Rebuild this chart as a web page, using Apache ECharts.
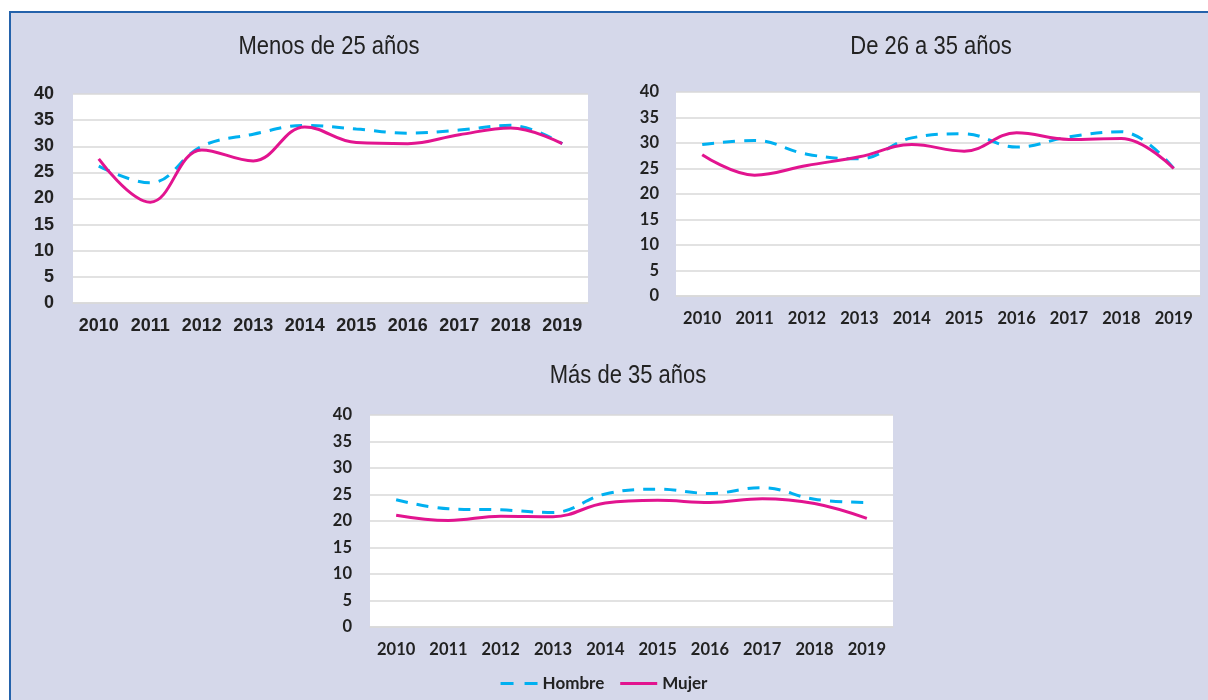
<!DOCTYPE html>
<html>
<head>
<meta charset="utf-8">
<script src="https://cdn.jsdelivr.net/npm/echarts@6/dist/echarts.min.js"></script>
<style>
  html, body { margin: 0; padding: 0; background: #fff; }
  #main { width: 1208px; height: 700px; }
</style>
</head>
<body>
<div id="main"></div>
<script>
var years = ['2010', '2011', '2012', '2013', '2014', '2015', '2016', '2017', '2018', '2019'];
var yTicks = [0, 5, 10, 15, 20, 25, 30, 35, 40];
var titles = ['Menos de 25 años', 'De 26 a 35 años', 'Más de 35 años'];
var seriesNames = ['Hombre', 'Mujer'];

// Menos de 25 años
var hombre25 = [26.2, 23.0, 30.0, 32.3, 34.0, 33.3, 32.5, 33.1, 34.0, 30.5];
var mujer25 = [27.6, 19.3, 29.3, 27.2, 33.7, 30.7, 30.5, 32.2, 33.5, 30.5];
// De 26 a 35 años
var hombre35 = [29.7, 30.5, 27.8, 26.9, 31.0, 31.8, 29.2, 31.2, 32.2, 25.0];
var mujer35 = [27.7, 23.7, 25.6, 27.3, 29.7, 28.4, 32.0, 30.7, 30.9, 25.0];
// Más de 35 años
var hombreMas = [24.0, 22.3, 22.1, 21.6, 25.1, 26.0, 25.2, 26.3, 24.1, 23.5];
var mujerMas = [21.1, 20.1, 20.9, 20.8, 23.4, 23.9, 23.5, 24.2, 23.3, 20.5];

var blue = '#00b0f0';
var pink = '#e2148f';
var gridColor = '#d9d9d9';

var myChart = echarts.init(document.getElementById('main'));

var grids = [
    { left: 73, top: 94, width: 515, height: 209 },
    { left: 676, top: 92, width: 524, height: 204 },
    { left: 370, top: 415, width: 523, height: 212 }
];
// first panel uses Arial-like labels, the other two Calibri-like
var labelFonts = ['Liberation Sans', 'Lato', 'Lato'];
var labelSizes = [18, 16.5, 16.5];
var yMargins = [19, 17, 18];

var xAxes = [], yAxes = [], series = [];
grids.forEach(function (g, i) {
    g.show = true;
    g.backgroundColor = '#ffffff';
    g.borderWidth = 0;
    xAxes.push({
        type: 'category',
        gridIndex: i,
        data: years,
        boundaryGap: true,
        axisLine: { show: true, lineStyle: { color: gridColor, width: 1.5 } },
        axisTick: { show: false },
        axisLabel: {
            color: '#222', fontWeight: 'bold', fontSize: labelSizes[i],
            fontFamily: labelFonts[i], margin: 14, interval: 0
        }
    });
    yAxes.push({
        type: 'value',
        gridIndex: i,
        min: yTicks[0],
        max: yTicks[yTicks.length - 1],
        interval: 5,
        axisLine: { show: false },
        axisTick: { show: false },
        splitLine: { lineStyle: { color: gridColor, width: 1.5 } },
        axisLabel: {
            color: '#222', fontWeight: 'bold', fontSize: labelSizes[i],
            fontFamily: labelFonts[i], margin: yMargins[i]
        }
    });
});

var sets = [[hombre25, mujer25], [hombre35, mujer35], [hombreMas, mujerMas]];
sets.forEach(function (pair, i) {
    series.push({
        name: seriesNames[0], type: 'line', xAxisIndex: i, yAxisIndex: i,
        data: pair[0], smooth: 0.4, symbol: 'none',
        lineStyle: { color: blue, width: 3, type: [12, 9] },
        itemStyle: { color: blue }, z: 2
    });
    series.push({
        name: seriesNames[1], type: 'line', xAxisIndex: i, yAxisIndex: i,
        data: pair[1], smooth: 0.4, symbol: 'none',
        lineStyle: { color: pink, width: 3 },
        itemStyle: { color: pink }, z: 3
    });
});

// condensed-looking panel titles
var titlePos = [[329, 47], [931, 47], [628, 376]];
var titleTexts = titlePos.map(function (p, i) {
    return {
        type: 'text',
        x: p[0], y: p[1],
        scaleX: 0.88,
        z: 10,
        style: {
            text: titles[i],
            font: 'normal 25px "Liberation Sans", sans-serif',
            fill: '#222',
            align: 'center',
            verticalAlign: 'middle'
        }
    };
});

var option = {
    animation: false,
    backgroundColor: '#ffffff',
    graphic: [{
        type: 'rect',
        z: -10,
        shape: { x: 10, y: 12, width: 1220, height: 720 },
        style: { fill: '#d5d8ea', stroke: '#2462ab', lineWidth: 2 }
    }].concat(titleTexts),
    legend: {
        data: [
            { name: 'Hombre', icon: 'path://M0,0H13V3H0Z M24,0H37V3H24Z' },
            { name: 'Mujer', icon: 'path://M0,0H37V3H0Z' }
        ],
        left: 'center',
        top: 670,
        itemWidth: 37,
        itemHeight: 3,
        itemGap: 16,
        itemStyle: { borderWidth: 0 },
        lineStyle: { width: 0 },
        textStyle: { color: '#222', fontWeight: 'bold', fontSize: 17, fontFamily: 'Lato' }
    },
    grid: grids,
    xAxis: xAxes,
    yAxis: yAxes,
    series: series
};

myChart.setOption(option);
window.onresize = function () {
    myChart.resize();
};
</script>
</body>
</html>
